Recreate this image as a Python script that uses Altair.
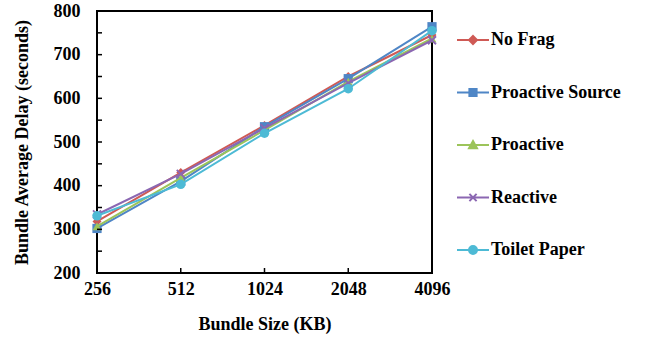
import altair as alt
import pandas as pd

sizes = ["256", "512", "1024", "2048", "4096"]
series_names = ["No Frag", "Proactive Source", "Proactive", "Reactive", "Toilet Paper"]
no_frag = [318, 430, 538, 650, 745]
proactive_source = [302, 410, 535, 645, 764]
proactive = [307, 418, 527, 638, 737]
reactive = [334, 427, 532, 635, 733]
toilet_paper = [331, 403, 520, 622, 755]
y_labels = [200, 300, 400, 500, 600, 700, 800]
y_minor = [250, 300, 350, 400, 450, 500, 550, 600, 650, 700, 750]
x_inner = ["512", "1024", "2048"]

colors = ["#CF5A55", "#4F86C6", "#9CC45A", "#8B67B2", "#4DBAD5"]
X_PATH = "M-1,-1L1,1M1,-1L-1,1"
marker_shapes = ["diamond", "square", "triangle-up", X_PATH, "circle"]
marker_sizes = [80, 85, 80, 64, 90]
legend_paths = [
    "M-4,0H4M0,-1L1,0L0,1L-1,0Z",
    "M-4,0H4M-0.9,-0.9H0.9V0.9H-0.9Z",
    "M-4,0H4M0,-1L1,0.8H-1Z",
    "M-4,0H4M-0.9,-0.9L0.9,0.9M0.9,-0.9L-0.9,0.9",
    "M-4,0H4M-1,0A1,1,0,1,0,1,0A1,1,0,1,0,-1,0Z",
]

all_values = [no_frag, proactive_source, proactive, reactive, toilet_paper]
rows = []
for name, vals in zip(series_names, all_values):
    for s, v in zip(sizes, vals):
        rows.append({"series": name, "size": s, "delay": v})
df = pd.DataFrame(rows)

FONT = "Liberation Serif"
W, H = 335, 262

x_scale = alt.Scale(domain=sizes, type="point", padding=0)
y_scale = alt.Scale(domain=[200, 800], nice=False, zero=False)
x_axis = alt.Axis(title="Bundle Size (KB)", labelAngle=0, ticks=False, domain=False, grid=False,
                  labelPadding=7, titlePadding=17)
y_axis = alt.Axis(title="Bundle Average Delay (seconds)", values=y_labels, ticks=False, domain=False,
                  grid=False, labelPadding=17, titlePadding=22)

X = alt.X("size:O", sort=sizes, scale=x_scale, axis=x_axis)
Y = alt.Y("delay:Q", scale=y_scale, axis=y_axis)

base = alt.Chart(df)
layers = []
for name, col, shp, sz in zip(series_names, colors, marker_shapes, marker_sizes):
    sub = base.transform_filter(alt.datum.series == name)
    layers.append(sub.mark_line(color=col, strokeWidth=2).encode(x=X, y=Y))
    if shp == X_PATH:
        layers.append(sub.mark_point(shape=shp, filled=False, color=col, size=sz, strokeWidth=1.8, opacity=1).encode(x=X, y=Y))
    else:
        layers.append(sub.mark_point(shape=shp, filled=True, color=col, size=sz, opacity=1).encode(x=X, y=Y))

# inward ticks
yt = pd.DataFrame({"delay": y_minor})
layers.append(alt.Chart(yt).mark_rule(color="black", strokeWidth=1.5).encode(
    y=alt.Y("delay:Q", scale=y_scale, axis=y_axis), x=alt.value(0), x2=alt.value(5)))
xt = pd.DataFrame({"size": x_inner})
layers.append(alt.Chart(xt).mark_rule(color="black", strokeWidth=1.5).encode(
    x=alt.X("size:O", sort=sizes, scale=x_scale, axis=x_axis), y=alt.value(H), y2=alt.value(H - 5)))

leg = alt.Legend(title=None, orient="none", legendX=367, legendY=20, padding=0,
                 labelFont=FONT, labelFontWeight="bold", labelFontSize=18, labelColor="black",
                 symbolSize=64, symbolStrokeWidth=2, symbolOpacity=1, rowPadding=34.5,
                 labelOffset=9, labelLimit=300)
legend_layer = base.transform_filter(alt.datum.delay < 0).mark_point(
    filled=True, strokeWidth=2, opacity=1).encode(
    x=X, y=Y,
    fill=alt.Fill("series:N", scale=alt.Scale(domain=series_names, range=colors), legend=leg),
    stroke=alt.Stroke("series:N", scale=alt.Scale(domain=series_names, range=colors), legend=leg),
    shape=alt.Shape("series:N", scale=alt.Scale(domain=series_names, range=legend_paths), legend=leg),
)
layers.append(legend_layer)

chart = alt.layer(*layers).properties(
    width=W, height=H, autosize="none",
    padding={"left": 97, "top": 11, "right": 217, "bottom": 64},
    background="white",
).configure_view(stroke="black", strokeWidth=2).configure_axis(
    labelFont=FONT, labelFontWeight="bold", labelFontSize=18, labelColor="black",
    titleFont=FONT, titleFontWeight="bold", titleFontSize=18, titleColor="black",
)

chart.save("out.html", embed_options={"renderer": "svg", "actions": False})
